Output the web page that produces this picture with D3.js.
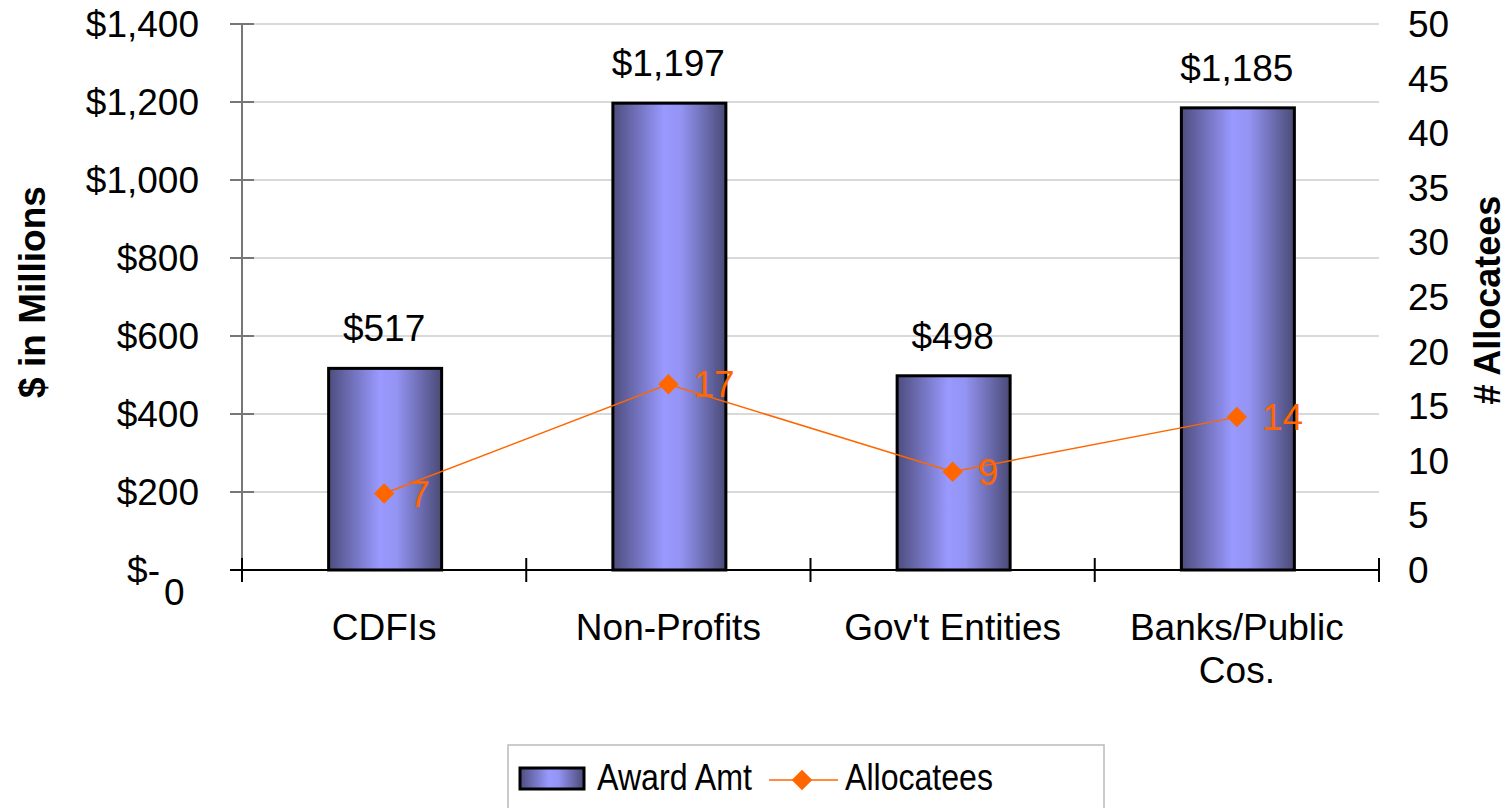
<!DOCTYPE html>
<html><head><meta charset="utf-8">
<script src="https://cdn.jsdelivr.net/npm/d3@7"></script>
<style>body{margin:0;background:#fff}svg{display:block}text{font-family:"Liberation Sans",Arial,sans-serif}</style>
</head><body><svg id="c" width="1508" height="808"></svg>
<script>
const categories = [["CDFIs"], ["Non-Profits"], ["Gov't Entities"], ["Banks/Public", "Cos."]];
const awardAmt = [517, 1197, 498, 1185];
const allocatees = [7, 17, 9, 14];
const leftTicks = [0, 200, 400, 600, 800, 1000, 1200, 1400];
const rightTicks = [0, 5, 10, 15, 20, 25, 30, 35, 40, 45, 50];
const seriesNames = ["Award Amt", "Allocatees"];

const svg = d3.select("#c");
const FS = 37;
const L = 242, R = 1379, T = 24, B = 570;
const x = d3.scaleBand().domain(d3.range(categories.length)).range([L, R]).paddingInner(0).paddingOuter(0);
const y = d3.scaleLinear().domain([0, 1400]).range([B, T]);
const y2 = d3.scaleLinear().domain([0, 50]).range([B, T]);
const fmt = v => v === 0 ? "$-" : "$" + d3.format(",")(v);

const defs = svg.append("defs");
const g = defs.append("linearGradient").attr("id", "bg").attr("x1", "0").attr("x2", "1").attr("y1", "0").attr("y2", "0");
g.append("stop").attr("offset", "0%").attr("stop-color", "#4d4d7e");
g.append("stop").attr("offset", "45%").attr("stop-color", "#9999ff");
g.append("stop").attr("offset", "60%").attr("stop-color", "#9494f4");
g.append("stop").attr("offset", "100%").attr("stop-color", "#4a4a76");

// gridlines
svg.append("g").selectAll("line").data(leftTicks.filter(d => d > 0)).join("line")
  .attr("x1", L + 12).attr("x2", R).attr("y1", d => y(d)).attr("y2", d => y(d))
  .attr("stroke", "#d9d9d9").attr("stroke-width", 2);

// left axis
const la = svg.append("g");
la.append("line").attr("x1", L).attr("x2", L).attr("y1", T).attr("y2", B + 12).attr("stroke", "#777").attr("stroke-width", 2);
la.selectAll("line.t").data(leftTicks.filter(d => d > 0)).join("line").attr("class", "t")
  .attr("x1", L - 12).attr("x2", L + 12).attr("y1", d => y(d)).attr("y2", d => y(d)).attr("stroke", "#777").attr("stroke-width", 2);
la.selectAll("text").data(leftTicks).join("text")
  .attr("x", d => d === 0 ? 160 : 199).attr("y", d => y(d)).attr("dy", "0.35em").attr("text-anchor", "end")
  .attr("font-size", FS).attr("fill", "#000").text(fmt);
svg.append("text").attr("x", 164).attr("y", 605).attr("font-size", FS).text("0");

// right axis labels
svg.append("g").selectAll("text").data(rightTicks).join("text")
  .attr("x", 1408).attr("y", d => y2(d)).attr("dy", "0.35em").attr("font-size", FS).text(d => d);

// bars
const bw = 113;
svg.append("g").selectAll("rect").data(awardAmt).join("rect")
  .attr("x", (d, i) => x(i) + x.bandwidth() / 2 - bw / 2 + 1).attr("width", bw)
  .attr("y", d => y(d)).attr("height", d => B - y(d))
  .attr("fill", "url(#bg)").attr("stroke", "#000").attr("stroke-width", 3);
svg.append("g").selectAll("text").data(awardAmt).join("text")
  .attr("x", (d, i) => x(i) + x.bandwidth() / 2).attr("y", d => y(d) - 27)
  .attr("text-anchor", "middle").attr("font-size", FS).text(fmt);

// bottom axis
const ba = svg.append("g");
ba.append("line").attr("x1", L - 12).attr("x2", R).attr("y1", B).attr("y2", B).attr("stroke", "#000").attr("stroke-width", 2);
ba.selectAll("line.t").data(d3.range(categories.length + 1)).join("line").attr("class", "t")
  .attr("x1", i => L + i * x.bandwidth()).attr("x2", i => L + i * x.bandwidth())
  .attr("y1", B - 12).attr("y2", B + 12).attr("stroke", "#000").attr("stroke-width", 2);
ba.selectAll("text").data(categories).join("text")
  .attr("x", (d, i) => x(i) + x.bandwidth() / 2).attr("y", 640)
  .attr("text-anchor", "middle").attr("font-size", FS)
  .each(function(d) {
    d3.select(this).selectAll("tspan").data(d).join("tspan")
      .attr("x", d3.select(this).attr("x")).attr("dy", (t, j) => j === 0 ? 0 : 43).text(t => t);
  });

// line
const lineGen = d3.line().x((d, i) => x(i) + x.bandwidth() / 2).y(d => y2(d));
svg.append("path").datum(allocatees).attr("d", lineGen).attr("fill", "none").attr("stroke", "#ff6600").attr("stroke-width", 1.5);
svg.append("g").selectAll("path").data(allocatees).join("path")
  .attr("d", d3.symbol(d3.symbolSquare, 210))
  .attr("transform", (d, i) => `translate(${x(i) + x.bandwidth() / 2},${y2(d)}) rotate(45)`)
  .attr("fill", "#ff6600");
svg.append("g").selectAll("text").data(allocatees).join("text")
  .attr("x", (d, i) => x(i) + x.bandwidth() / 2 + 25).attr("y", d => y2(d)).attr("dy", "0.35em")
  .attr("font-size", FS).attr("fill", "#ff6600").text(d => d);

// axis titles
svg.append("text").attr("transform", "translate(45,292) rotate(-90)").attr("text-anchor", "middle")
  .attr("font-size", 37).attr("font-weight", "bold").text("$ in Millions");
svg.append("text").attr("transform", "translate(1500,300) rotate(-90)").attr("text-anchor", "middle")
  .attr("font-size", 36).attr("font-weight", "bold").text("# Allocatees");

// legend
const lg = svg.append("g");
lg.append("rect").attr("x", 508).attr("y", 745).attr("width", 596).attr("height", 80).attr("fill", "#fff").attr("stroke", "#bbb").attr("stroke-width", 1.5);
lg.append("rect").attr("x", 520).attr("y", 768).attr("width", 64).attr("height", 21).attr("fill", "url(#bg)").attr("stroke", "#000").attr("stroke-width", 3);
lg.append("text").attr("x", 597).attr("y", 790).attr("font-size", FS)
  .attr("textLength", 155).attr("lengthAdjust", "spacingAndGlyphs").text(seriesNames[0]);
lg.append("line").attr("x1", 769).attr("x2", 838).attr("y1", 780).attr("y2", 780).attr("stroke", "#ff6600").attr("stroke-width", 1.5);
lg.append("path").attr("d", d3.symbol(d3.symbolSquare, 210)).attr("transform", "translate(802,780) rotate(45)").attr("fill", "#ff6600");
lg.append("text").attr("x", 845).attr("y", 790).attr("font-size", FS)
  .attr("textLength", 148).attr("lengthAdjust", "spacingAndGlyphs").text(seriesNames[1]);
</script></body></html>
